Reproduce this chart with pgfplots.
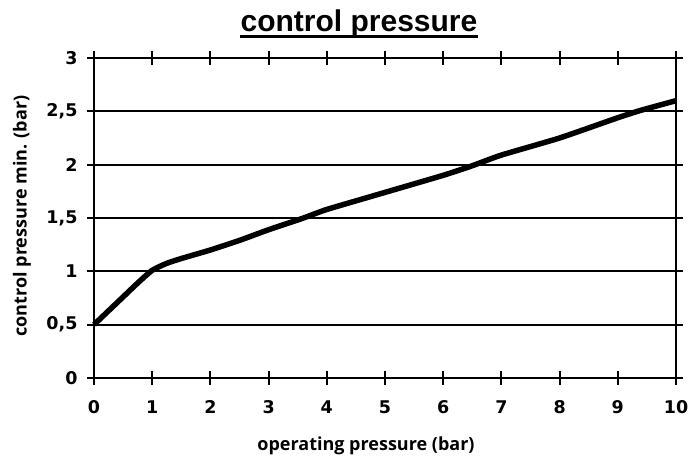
\documentclass[border=0pt]{standalone}
\usepackage{fontspec}
\setmainfont{Liberation Sans}
\newfontfamily\titlefont{Liberation Sans}
\newfontfamily\labfont{Open Sans}
\newfontfamily\tickfont{DejaVu Sans}
\usepackage{pgfplots}
\pgfplotsset{compat=1.18}
\begin{document}
\begin{tikzpicture}
\begin{axis}[name=ax, scale only axis, width=582pt, height=320pt,
  xmin=0, xmax=10, ymin=0, ymax=3,
  xtick={0,1,2,3,4,5,6,7,8,9,10},
  ytick={0,0.5,1,1.5,2,2.5,3},
  ymajorgrids, grid style={black, line width=2pt},
  axis line style={line width=2.5pt},
  tick style={black, line width=2pt},
  major tick length=14pt, tick align=center,
  /pgf/number format/use comma,
  /pgf/number format/assume math mode=true,
  ticklabel style={font=\tickfont\bfseries\fontsize{17.5}{17.5}\selectfont},
  xticklabel style={yshift=-12pt},
  yticklabel style={xshift=-6pt},
  clip=false]
\addplot[black, line width=5.5pt, smooth, tension=0.3] coordinates {
(0,0.5) (0.25,0.63) (0.5,0.76) (0.75,0.89) (1,1.01) (1.25,1.075) (1.5,1.12)
(2,1.2) (2.5,1.29) (3,1.39) (3.6,1.5) (4,1.58) (5,1.74) (6,1.9) (6.5,1.99)
(7,2.09) (8,2.25) (9,2.44) (9.4,2.51) (10,2.6)};
\end{axis}
\node[font=\titlefont\bfseries\fontsize{30}{30}\selectfont, anchor=base, inner sep=0pt] (T) at ([xshift=-26pt, yshift=26pt]ax.north) {control pressure};
\draw[line width=3pt] ([yshift=-4.5pt]T.base west) -- ([yshift=-4.5pt]T.base east);
\node[font=\labfont\bfseries\fontsize{18}{18}\selectfont, anchor=base] at ([xshift=-19pt, yshift=-73pt]ax.south) {operating pressure (bar)};
\node[font=\labfont\bfseries\fontsize{18}{18}\selectfont, rotate=90, anchor=center] at ([xshift=-72pt, yshift=2pt]ax.west) {control pressure min. (bar)};
\pgfresetboundingbox
\path ([shift={(-94pt,-81pt)}]ax.south west) rectangle ([shift={(13pt,58pt)}]ax.north east);
\end{tikzpicture}
\end{document}
